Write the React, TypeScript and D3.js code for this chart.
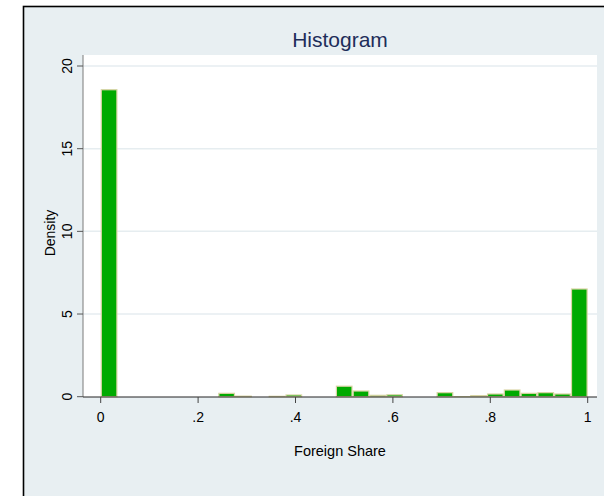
import * as d3 from 'd3';

// Histogram of foreign share, 29 equal bins on [0, 1]
const binCount = 29;
const densities = [
  18.6, 0, 0, 0, 0, 0, 0, 0.24, 0.07, 0, 0.06, 0.14, 0, 0, 0.67,
  0.38, 0.12, 0.15, 0, 0, 0.28, 0.04, 0.1, 0.2, 0.44, 0.24, 0.28, 0.2, 6.55,
];
const xTicks = [0, 0.2, 0.4, 0.6, 0.8, 1];
const xTickLabels = ['0', '.2', '.4', '.6', '.8', '1'];
const yTicks = [0, 5, 10, 15, 20];

const W = 604;
const H = 496;
const font = '"Liberation Sans", Arial, Helvetica, sans-serif';

export default function App() {
  const plot = { left: 83, right: 597, top: 55, bottom: 397 };

  const x = d3.scaleLinear().domain([0, 1]).range([100.7, 587.7]);
  const y = d3.scaleLinear().domain([0, 20]).range([396.7, 66]);

  const bins = densities.map((d, i) => ({ x0: i / binCount, x1: (i + 1) / binCount, d }));

  return (
    <svg
      width={W}
      height={H}
      style={{ position: 'absolute', left: 0, top: 0, display: 'block' }}
      fontFamily={font}
    >
      <rect x={0} y={0} width={W} height={H} fill="#ffffff" />
      {/* outer graph region */}
      <rect x={23.5} y={6.5} width={W + 10} height={H + 10} fill="#e8eff2" stroke="#000" strokeWidth={1.6} />

      {/* plot region */}
      <rect x={plot.left} y={plot.top} width={plot.right - plot.left} height={plot.bottom - plot.top} fill="#ffffff" />

      {/* grid */}
      {yTicks.filter(t => t > 0).map(t => (
        <line key={t} x1={plot.left} x2={plot.right} y1={y(t)} y2={y(t)} stroke="#e6edf0" strokeWidth={1.5} />
      ))}

      {/* bars */}
      {bins.filter(b => b.d > 0).map((b, i) => (
        <rect
          key={i}
          x={x(b.x0) + 0.6}
          y={y(b.d) + 0.6}
          width={x(b.x1) - x(b.x0) - 1.2}
          height={Math.max(0, y(0) - y(b.d) - 0.6)}
          fill="#00aa00"
          stroke="#d9d4a4"
          strokeWidth={1.2}
        />
      ))}

      {/* y axis */}
      <line x1={plot.left} x2={plot.left} y1={plot.top} y2={plot.bottom} stroke="#7a7a7a" strokeWidth={1} />
      {yTicks.map(t => (
        <g key={t}>
          <line x1={plot.left - 6} x2={plot.left} y1={y(t)} y2={y(t)} stroke="#555" strokeWidth={1} />
          <text
            transform={`translate(71.5,${y(t)}) rotate(-90)`}
            textAnchor="middle"
            fontSize={14}
            fill="#000"
          >
            {t}
          </text>
        </g>
      ))}
      <text transform="translate(54.5,233) rotate(-90)" textAnchor="middle" fontSize={14} fill="#000">
        Density
      </text>

      {/* x axis */}
      <line x1={plot.left} x2={plot.right} y1={plot.bottom} y2={plot.bottom} stroke="#222" strokeWidth={1} />
      {xTicks.map((t, i) => (
        <g key={t}>
          <line x1={x(t)} x2={x(t)} y1={plot.bottom} y2={plot.bottom + 6} stroke="#444" strokeWidth={1} />
          <text x={x(t)} y={422.3} textAnchor="middle" fontSize={14} fill="#000">
            {xTickLabels[i]}
          </text>
        </g>
      ))}
      <text x={(plot.left + plot.right) / 2} y={455.5} textAnchor="middle" fontSize={14.5} fill="#000">
        Foreign Share
      </text>

      {/* title */}
      <text x={(plot.left + plot.right) / 2} y={47} textAnchor="middle" fontSize={21} fill="#1e2d5a">
        Histogram
      </text>
    </svg>
  );
}
